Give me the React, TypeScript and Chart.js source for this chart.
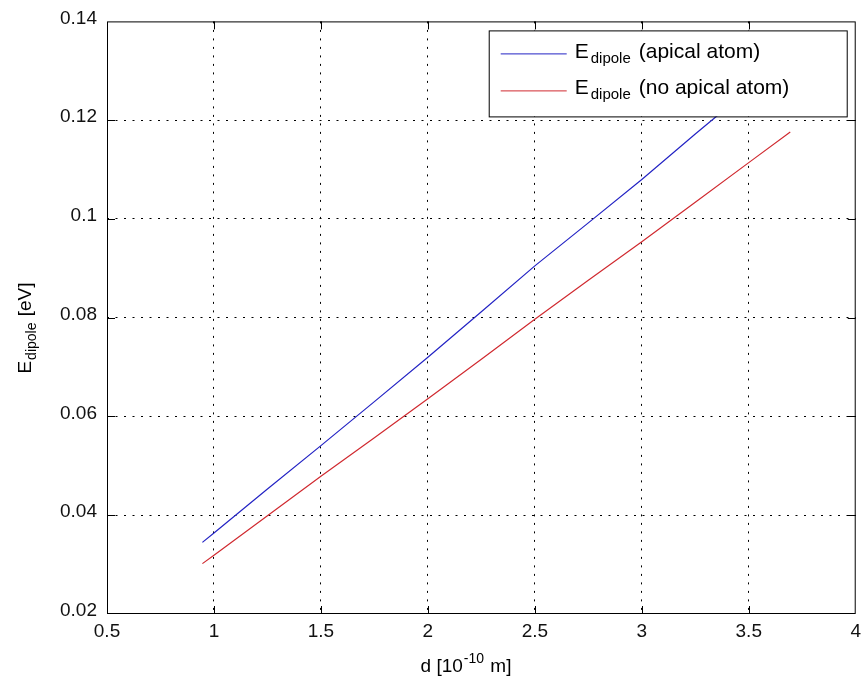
import React, { useEffect, useRef } from 'react';
import { Chart, registerables } from 'chart.js';

Chart.register(...registerables);

// ---- data ----
const X_VALUES = [0.946, 1.0, 1.25, 1.5, 1.75, 2.0, 2.25, 2.5, 2.75, 3.0, 3.25, 3.5, 3.694];
const APICAL_VALUES = [0.0345, 0.0364, 0.0453, 0.0541, 0.063, 0.072, 0.0812, 0.0905, 0.0992, 0.108, 0.1172, 0.1262, 0.1332];
const NO_APICAL_VALUES = [0.0302, 0.0319, 0.0399, 0.0479, 0.0557, 0.0636, 0.0716, 0.0797, 0.0876, 0.0954, 0.1034, 0.1114, 0.1176];

const X_TICKS = [0.5, 1, 1.5, 2, 2.5, 3, 3.5, 4];
const X_TICK_LABELS = ['0.5', '1', '1.5', '2', '2.5', '3', '3.5', '4'];
const Y_TICKS = [0.02, 0.04, 0.06, 0.08, 0.1, 0.12, 0.14];
const Y_TICK_LABELS = ['0.02', '0.04', '0.06', '0.08', '0.1', '0.12', '0.14'];

const SERIES_SYMBOL = 'E';
const SERIES_SUB = 'dipole';
const SERIES_LABELS = ['(apical atom)', '(no apical atom)'];
const SERIES_COLORS = ['#2323c4', '#d02a30'];

const X_TITLE = ['d [10', '-10', ' m]'];
const Y_TITLE = ['E', 'dipole', ' [eV]'];

const FONT = '"Liberation Sans", Arial, Helvetica, sans-serif';

const decorPlugin = {
  id: 'decor',
  afterDatasetsDraw(chart: any) {
    const { ctx, chartArea } = chart;
    const { left, right, top, bottom } = chartArea;
    const xs = chart.scales.x;
    const ys = chart.scales.y;
    ctx.save();
    ctx.strokeStyle = '#000';
    ctx.lineWidth = 1;
    ctx.setLineDash([]);
    // frame
    ctx.strokeRect(left + 0.5, top + 0.5, right - left - 1, bottom - top - 1);
    // inward ticks
    const tl = 8;
    ctx.beginPath();
    X_TICKS.slice(1, -1).forEach((v) => {
      const px = Math.round(xs.getPixelForValue(v)) + 0.5;
      ctx.moveTo(px, bottom);
      ctx.lineTo(px, bottom - tl);
      ctx.moveTo(px, top);
      ctx.lineTo(px, top + tl);
    });
    Y_TICKS.slice(1, -1).forEach((v) => {
      const py = Math.round(ys.getPixelForValue(v)) + 0.5;
      ctx.moveTo(left, py);
      ctx.lineTo(left + tl, py);
      ctx.moveTo(right, py);
      ctx.lineTo(right - tl, py);
    });
    ctx.stroke();

    // legend box
    const lx = right - 367;
    const ly = top + 9;
    const lw = 358;
    const lh = 86;
    ctx.fillStyle = '#fff';
    ctx.fillRect(lx, ly, lw, lh);
    ctx.strokeRect(lx + 0.5, ly + 0.5, lw, lh);
    SERIES_LABELS.forEach((label, i) => {
      const base = ly + 28 + i * 36;
      const lineY = ly + 23.5 + i * 37;
      ctx.strokeStyle = SERIES_COLORS[i];
      ctx.beginPath();
      ctx.moveTo(lx + 12, lineY);
      ctx.lineTo(lx + 78, lineY);
      ctx.stroke();
      ctx.fillStyle = '#000';
      ctx.textBaseline = 'alphabetic';
      ctx.textAlign = 'left';
      let cx = lx + 86;
      ctx.font = `21px ${FONT}`;
      ctx.fillText(SERIES_SYMBOL, cx, base);
      cx += ctx.measureText(SERIES_SYMBOL).width + 2;
      ctx.font = `15px ${FONT}`;
      ctx.fillText(SERIES_SUB, cx, base + 5);
      cx += ctx.measureText(SERIES_SUB).width + 8;
      ctx.font = `21px ${FONT}`;
      ctx.fillText(label, cx, base);
    });

    // x title
    ctx.fillStyle = '#000';
    ctx.textAlign = 'left';
    ctx.textBaseline = 'alphabetic';
    const mainF = `19px ${FONT}`;
    const smallF = `14px ${FONT}`;
    ctx.font = mainF;
    const w0 = ctx.measureText(X_TITLE[0]).width;
    const w2 = ctx.measureText(X_TITLE[2]).width;
    ctx.font = smallF;
    const w1 = ctx.measureText(X_TITLE[1]).width;
    const tw = w0 + w1 + w2 + 2;
    let tx = 466 - tw / 2;
    const tb = 672;
    ctx.font = mainF;
    ctx.fillText(X_TITLE[0], tx, tb);
    tx += w0 + 1;
    ctx.font = smallF;
    ctx.fillText(X_TITLE[1], tx, tb - 9);
    tx += w1 + 1;
    ctx.font = mainF;
    ctx.fillText(X_TITLE[2], tx, tb);

    // y title (rotated)
    ctx.save();
    ctx.translate(31, 328);
    ctx.rotate(-Math.PI / 2);
    ctx.font = mainF;
    const a0 = ctx.measureText(Y_TITLE[0]).width;
    const a2 = ctx.measureText(Y_TITLE[2]).width;
    ctx.font = smallF;
    const a1 = ctx.measureText(Y_TITLE[1]).width;
    let ux = -(a0 + a1 + a2 + 2) / 2;
    ctx.font = mainF;
    ctx.fillText(Y_TITLE[0], ux, 0);
    ux += a0 + 1;
    ctx.font = smallF;
    ctx.fillText(Y_TITLE[1], ux, 5);
    ux += a1 + 1;
    ctx.font = mainF;
    ctx.fillText(Y_TITLE[2], ux, 0);
    ctx.restore();

    ctx.restore();
  },
};

export default function App() {
  const ref = useRef<HTMLCanvasElement | null>(null);
  useEffect(() => {
    if (!ref.current) return;
    const edgeTransparent = (ticks: number[]) => (c: any) => {
      const v = c.tick ? c.tick.value : null;
      if (v === null) return 'rgba(0,0,0,0)';
      if (Math.abs(v - ticks[0]) < 1e-9 || Math.abs(v - ticks[ticks.length - 1]) < 1e-9) return 'rgba(0,0,0,0)';
      return '#000';
    };
    const chart = new Chart(ref.current, {
      type: 'line',
      data: {
        datasets: [
          {
            label: SERIES_SYMBOL + SERIES_SUB + ' ' + SERIES_LABELS[0],
            data: X_VALUES.map((x, i) => ({ x, y: APICAL_VALUES[i] })),
            borderColor: SERIES_COLORS[0],
            borderWidth: 1.2,
            pointRadius: 0,
            tension: 0,
            fill: false,
          },
          {
            label: SERIES_SYMBOL + SERIES_SUB + ' ' + SERIES_LABELS[1],
            data: X_VALUES.map((x, i) => ({ x, y: NO_APICAL_VALUES[i] })),
            borderColor: SERIES_COLORS[1],
            borderWidth: 1.2,
            pointRadius: 0,
            tension: 0,
            fill: false,
          },
        ],
      },
      options: {
        animation: false,
        responsive: false,
        devicePixelRatio: 1,
        layout: { padding: { top: 20, right: 6, left: 0, bottom: 0 } },
        plugins: { legend: { display: false }, tooltip: { enabled: false }, title: { display: false } },
        scales: {
          x: {
            type: 'linear',
            min: X_TICKS[0],
            max: X_TICKS[X_TICKS.length - 1],
            afterBuildTicks: (s: any) => {
              s.ticks = X_TICKS.map((v) => ({ value: v }));
            },
            afterFit: (s: any) => {
              s.height = 72;
            },
            grid: { color: edgeTransparent(X_TICKS), lineWidth: 1, drawTicks: false },
            border: { display: false, dash: [2, 6.5] },
            ticks: {
              padding: 6,
              maxRotation: 0,
              autoSkip: false,
              color: '#111',
              font: { family: FONT, size: 19 },
              callback: (_v: any, i: number) => X_TICK_LABELS[i],
            },
          },
          y: {
            type: 'linear',
            min: Y_TICKS[0],
            max: Y_TICKS[Y_TICKS.length - 1],
            afterBuildTicks: (s: any) => {
              s.ticks = Y_TICKS.map((v) => ({ value: v }));
            },
            afterFit: (s: any) => {
              s.width = 107;
            },
            grid: { color: edgeTransparent(Y_TICKS), lineWidth: 1, drawTicks: false },
            border: { display: false, dash: [2, 6.5] },
            ticks: {
              padding: 10,
              autoSkip: false,
              labelOffset: -3,
              color: '#111',
              font: { family: FONT, size: 19 },
              callback: (_v: any, i: number) => Y_TICK_LABELS[i],
            },
          },
        },
      },
      plugins: [decorPlugin],
    } as any);
    return () => chart.destroy();
  }, []);
  return (
    <div style={{ position: 'fixed', left: 0, top: 0, width: 867, height: 686, background: '#fff' }}>
      <canvas ref={ref} width={867} height={686} style={{ display: 'block' }} />
    </div>
  );
}
